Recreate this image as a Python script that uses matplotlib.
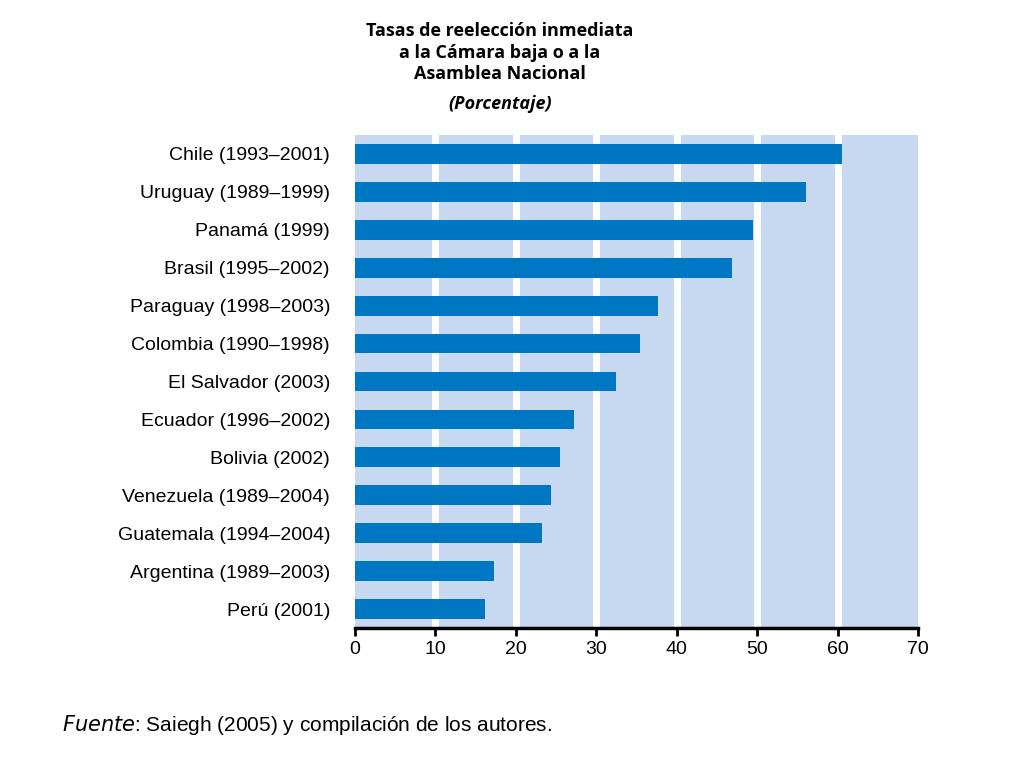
import matplotlib
matplotlib.use("Agg")
import matplotlib.pyplot as plt

categories = ["Chile (1993–2001)", "Uruguay (1989–1999)", "Panamá (1999)", "Brasil (1995–2002)",
              "Paraguay (1998–2003)", "Colombia (1990–1998)", "El Salvador (2003)", "Ecuador (1996–2002)",
              "Bolivia (2002)", "Venezuela (1989–2004)", "Guatemala (1994–2004)", "Argentina (1989–2003)",
              "Perú (2001)"]
values = [60.6, 56.1, 49.5, 46.9, 37.7, 35.4, 32.5, 27.2, 25.5, 24.4, 23.2, 17.3, 16.2]
ticks = [0, 10, 20, 30, 40, 50, 60, 70]

fig = plt.figure(figsize=(10.24, 7.68), dpi=100)
ax = fig.add_axes([355/1024, 1-628/768, 563/1024, (628-135)/768])
ax.set_facecolor("#c6d9f0")
for t in ticks[1:-1]:
    ax.axvline(t, color="white", lw=5, zorder=1)
y = list(range(len(categories)))[::-1]
ax.barh(y, values, height=0.52, color="#0077c2", zorder=2)
ax.set_xlim(0, 70)
ax.set_ylim(-0.5, len(categories)-0.5)
ax.set_yticks(y)
ax.set_yticklabels(categories, fontsize=14, fontfamily="Liberation Sans")
ax.set_xticks(ticks)
ax.set_xticklabels([str(t) for t in ticks], fontsize=14, fontfamily="Liberation Sans")
ax.tick_params(axis="y", length=0, pad=18)
ax.tick_params(axis="x", length=6, width=2, direction="out")
for s in ["top", "right"]:
    ax.spines[s].set_visible(False)
ax.spines["left"].set_visible(False)
ax.spines["bottom"].set_linewidth(2.5)

fig.text(500/1024, 1-22/768, "Tasas de reelección inmediata\na la Cámara baja o a la\nAsamblea Nacional",
         ha="center", va="top", fontsize=13, fontweight="bold", fontfamily="Open Sans", linespacing=1.25)
fig.text(500/1024, 1-104/768, "(Porcentaje)", ha="center", va="center", fontsize=13,
         fontweight="bold", style="italic", fontfamily="Open Sans")
fig.text(62/1024, 1-725/768, r"$\it{Fuente}$: Saiegh (2005) y compilación de los autores.",
         ha="left", va="center", fontsize=15, fontfamily="Liberation Sans")
fig.savefig("out.png", dpi=100)
